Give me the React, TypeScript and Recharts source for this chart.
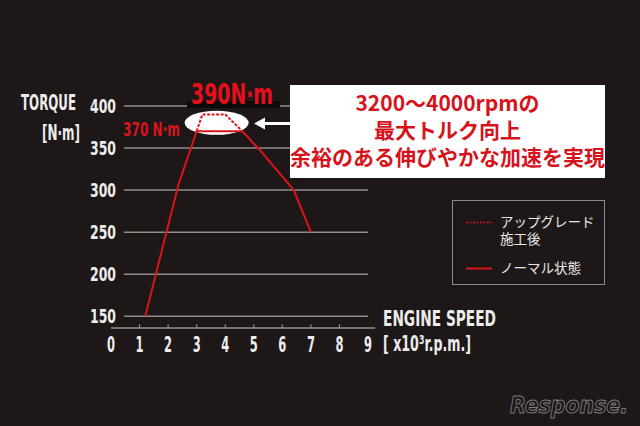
import React from "react";
import {
  LineChart,
  Line,
  XAxis,
  YAxis,
  ReferenceLine,
  Legend,
} from "recharts";

// axis ticks
const rpmTicks = [0, 1, 2, 3, 4, 5, 6, 7, 8, 9];
const torqueTicks = [150, 200, 250, 300, 350, 400];

// normal engine (solid)
const normalRpm = [1.2, 2.35, 3.0, 4.6, 5.2, 6.4, 7.0];
const normalTorque = [150, 305, 370, 370, 348, 300, 250];

// after upgrade (dashed)
const upgradeRpm = [3.0, 3.2, 4.0, 4.6];
const upgradeTorque = [370, 390, 390, 370];

const legendUpgrade = ["アップグレード", "施工後"];
const legendNormal = ["ノーマル状態"];
const noteLines = ["3200〜4000rpmの", "最大トルク向上", "余裕のある伸びやかな加速を実現"];

const BG = "#1d1717";
const RED = "#d8141d";
const GRID = "#8e8e8e";
const NARROW = "'Liberation Sans Narrow', 'DejaVu Sans Condensed', 'Roboto', sans-serif";
const JP = "'Noto Sans CJK JP', 'Noto Sans', sans-serif";

// plot box (px) and domains, shared by the chart and the highlight ellipse
const M = { top: 106, right: 272, bottom: 68, left: 91 };
const Y_AXIS_W = 20;
const X_DOMAIN = [0, 9];
const Y_DOMAIN = [136, 400];
const plotLeft = M.left + Y_AXIS_W;
const plotW = 640 - plotLeft - M.right;
const plotH = 426 - M.top - M.bottom - 30;
const sx = (v: number) => plotLeft + ((v - X_DOMAIN[0]) / (X_DOMAIN[1] - X_DOMAIN[0])) * plotW;
const sy = (v: number) => M.top + ((Y_DOMAIN[1] - v) / (Y_DOMAIN[1] - Y_DOMAIN[0])) * plotH;

// highlighted peak region
const peakRpm = 3.7;
const peakTorque = 380;

const normalData = normalRpm.map((rpm, i) => ({ rpm, torque: normalTorque[i] }));
const upgradeData = upgradeRpm.map((rpm, i) => ({ rpm, torque: upgradeTorque[i] }));

const RpmTick = (props: any) => {
  const { x, y, payload } = props;
  return (
    <text
      x={x - 4}
      y={y + 15.8}
      fill="#ececec"
      fontFamily={NARROW}
      fontWeight="bold"
      fontSize={21}
      textLength={8}
      lengthAdjust="spacingAndGlyphs"
    >
      {payload.value}
    </text>
  );
};

const TorqueTick = (props: any) => {
  const { x, y, payload } = props;
  return (
    <text
      x={x - 13}
      y={y + 6.5}
      fill="#ececec"
      fontFamily={NARROW}
      fontWeight="bold"
      fontSize={20}
      textLength={26}
      lengthAdjust="spacingAndGlyphs"
    >
      {payload.value}
    </text>
  );
};

const LegendBox = () => (
  <div
    style={{
      width: 151,
      height: 83,
      border: "1px solid #8a8a8a",
      fontFamily: JP,
      fontSize: 13.5,
      color: "#e8e8e8",
      position: "relative",
    }}
  >
    <svg width={151} height={83} style={{ position: "absolute", left: 0, top: 0 }}>
      <line x1={13} x2={39} y1={21.5} y2={21.5} stroke={RED} strokeWidth={1.5} strokeDasharray="2 1.5" />
      <line x1={13} x2={39} y1={67.5} y2={67.5} stroke={RED} strokeWidth={2} />
    </svg>
    <div style={{ position: "absolute", left: 47, top: 12, lineHeight: "17px" }}>
      {legendUpgrade.map((t) => (
        <div key={t}>{t}</div>
      ))}
    </div>
    <div style={{ position: "absolute", left: 47, top: 58, lineHeight: "17px" }}>
      {legendNormal.map((t) => (
        <div key={t}>{t}</div>
      ))}
    </div>
  </div>
);

export default function App() {
  return (
    <div
      style={{
        position: "absolute",
        left: 0,
        top: 0,
        width: 640,
        height: 426,
        background: BG,
        overflow: "hidden",
      }}
    >
      {/* white highlight behind the peak, under the lines */}
      <svg width={640} height={426} style={{ position: "absolute", left: 0, top: 0 }}>
        <ellipse cx={sx(peakRpm)} cy={sy(peakTorque)} rx={32} ry={12} fill="#ffffff" />
      </svg>

      <div style={{ position: "absolute", left: 0, top: 0 }}>
        <LineChart width={640} height={426} margin={M}>
          <XAxis
            type="number"
            dataKey="rpm"
            domain={X_DOMAIN}
            ticks={rpmTicks}
            interval={0}
            axisLine={false}
            tickLine={false}
            tick={<RpmTick />}
            height={30}
            allowDataOverflow
          />
          <YAxis
            type="number"
            domain={Y_DOMAIN}
            ticks={torqueTicks}
            interval={0}
            width={Y_AXIS_W}
            axisLine={false}
            tickLine={false}
            tick={<TorqueTick />}
            allowDataOverflow
          />
          {torqueTicks.map((t) => (
            <ReferenceLine
              key={`g${t}`}
              segment={[
                { x: 0.45, y: t },
                { x: 9, y: t },
              ]}
              stroke={GRID}
              strokeWidth={1.5}
              ifOverflow="visible"
            />
          ))}
          <ReferenceLine
            segment={[
              { x: 0, y: 136 },
              { x: 9.25, y: 136 },
            ]}
            stroke={GRID}
            strokeWidth={1.5}
            ifOverflow="visible"
          />
          {rpmTicks.slice(1, 9).map((t) => (
            <ReferenceLine
              key={`t${t}`}
              segment={[
                { x: t, y: 136 },
                { x: t, y: 140.5 },
              ]}
              stroke={GRID}
              strokeWidth={1.2}
              ifOverflow="visible"
            />
          ))}
          <Line
            data={normalData}
            dataKey="torque"
            type="linear"
            stroke={RED}
            strokeWidth={2}
            dot={false}
            isAnimationActive={false}
          />
          <Line
            data={upgradeData}
            dataKey="torque"
            type="linear"
            stroke={RED}
            strokeWidth={2}
            strokeDasharray="3 1.5"
            dot={false}
            isAnimationActive={false}
          />
          <Legend
            layout="horizontal"
            align="center"
            verticalAlign="middle"
            content={() => <LegendBox />}
            wrapperStyle={{ left: 452, top: 200, width: 153, height: 85 }}
          />
        </LineChart>
      </div>

      <svg
        width={640}
        height={426}
        style={{ position: "absolute", left: 0, top: 0, pointerEvents: "none" }}
      >
        <text x={21} y={110} fill="#ececec" fontFamily={NARROW} fontWeight="bold" fontSize={22} textLength={55} lengthAdjust="spacingAndGlyphs">
          TORQUE
        </text>
        <text x={42} y={140} fill="#ececec" fontFamily={NARROW} fontWeight="bold" fontSize={22} textLength={38} lengthAdjust="spacingAndGlyphs">
          [N·m]
        </text>
        <text x={383} y={326} fill="#ececec" fontFamily={NARROW} fontWeight="bold" fontSize={22} textLength={113} lengthAdjust="spacingAndGlyphs">
          ENGINE SPEED
        </text>
        <text x={383} y={351} fill="#ececec" fontFamily={NARROW} fontWeight="bold" fontSize={21} textLength={88} lengthAdjust="spacingAndGlyphs">
          [ x10³r.p.m.]
        </text>
        <rect x={187} y={101} width={93} height={7} fill="#0c0a0a" />
        <text x={191} y={103.5} fill="#e5101c" fontFamily={NARROW} fontWeight="bold" fontSize={29} textLength={82} lengthAdjust="spacingAndGlyphs">
          390N·m
        </text>
        <text x={123} y={136} fill={RED} fontFamily={NARROW} fontWeight="bold" fontSize={20} textLength={57} lengthAdjust="spacingAndGlyphs">
          370 N·m
        </text>
        <line x1={263} x2={292} y1={123.5} y2={123.5} stroke="#ffffff" strokeWidth={3} />
        <polygon points="254,123.5 265,117.5 265,129.5" fill="#ffffff" />
        <text
          x={510}
          y={413}
          fill="none"
          stroke="#7a7a7a"
          strokeWidth={1}
          fontFamily="'DejaVu Sans', sans-serif"
          fontStyle="italic"
          fontWeight="bold"
          fontSize={23}
          textLength={118}
          lengthAdjust="spacingAndGlyphs"
        >
          Response.
        </text>
      </svg>

      <div
        style={{
          position: "absolute",
          left: 290,
          top: 85,
          width: 315,
          height: 93,
          background: "#ffffff",
          color: "#d6131c",
          fontFamily: JP,
          fontWeight: 700,
          fontSize: 21,
          lineHeight: "27px",
          textAlign: "center",
          paddingTop: 4,
          boxSizing: "border-box",
        }}
      >
        {noteLines.map((t) => (
          <div key={t}>{t}</div>
        ))}
      </div>
    </div>
  );
}
